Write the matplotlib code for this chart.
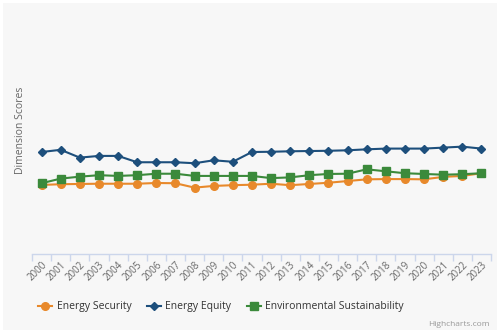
import matplotlib
matplotlib.use("Agg")
import matplotlib.pyplot as plt

years = [str(y) for y in range(2000, 2024)]
energy_security = [28.3, 28.6, 28.7, 28.8, 28.8, 28.8, 29.1, 29.0, 27.2, 27.9, 28.2, 28.4,
                   28.8, 28.2, 28.7, 29.2, 29.9, 30.6, 30.7, 30.7, 30.6, 31.6, 32.0, 33.1]
energy_equity = [41.8, 42.7, 39.5, 40.2, 40.2, 37.6, 37.6, 37.6, 37.2, 38.4, 37.8, 41.8,
                 41.9, 42.1, 42.2, 42.3, 42.5, 42.9, 43.2, 43.2, 43.2, 43.6, 44.0, 43.2]
env_sustain = [29.0, 30.9, 31.7, 32.3, 32.0, 32.3, 32.9, 32.9, 32.0, 32.0, 32.0, 32.0,
               31.1, 31.4, 32.3, 32.8, 32.9, 34.7, 33.9, 33.1, 32.8, 32.5, 32.7, 33.1]

plt.rcParams['font.family'] = ['Open Sans', 'DejaVu Sans']

W, H = 500, 333
fig = plt.figure(figsize=(W / 100, H / 100), dpi=100)
fig.patch.set_facecolor('#f7f7f7')
fig.patch.set_edgecolor('white')
fig.patch.set_linewidth(3)

ax = fig.add_axes([32 / W, (H - 254) / H, (491 - 32) / W, (254 - 10) / H])
ax.set_facecolor('#f7f7f7')
x = list(range(len(years)))

ax.plot(x, energy_security, color='#e8892b', lw=1.5, marker='o', ms=5.5, label='Energy Security')
ax.plot(x, energy_equity, color='#1d4f7c', lw=1.5, marker='D', ms=4, label='Energy Equity')
ax.plot(x, env_sustain, color='#3b8a3b', lw=1.5, marker='s', ms=5.5, label='Environmental Sustainability')

ax.set_xlim(-0.5, len(years) - 0.5)
ax.set_ylim(0, 100)
for s in ['top', 'right', 'left']:
    ax.spines[s].set_visible(False)
ax.spines['bottom'].set_color('#ccd6eb')
ax.spines['bottom'].set_linewidth(1)
ax.set_yticks([])
ax.set_xticks(x)
ax.set_xticklabels(years, rotation=45, ha='right', va='top', rotation_mode='anchor',
                   fontsize=7, color='#666666')
ax.tick_params(axis='x', which='major', length=0, pad=4)
ax.set_xticks([i - 0.5 for i in range(len(years) + 1)], minor=True)
ax.tick_params(axis='x', which='minor', length=5, color='#ccd6eb', width=1)

fig.text(21 / W, (H - 130) / H, 'Dimension Scores', rotation=90,
         ha='center', va='center', fontsize=7.5, color='#666666')

fig.legend(loc='center', bbox_to_anchor=(221 / W, (H - 307) / H), ncol=3, frameon=False,
           fontsize=7.5, handlelength=1.35, handletextpad=0.4, columnspacing=1.5,
           labelcolor='#333333', borderpad=0)

fig.text(490 / W, (H - 325) / H, 'Highcharts.com', ha='right', va='center',
         fontsize=6, color='#999999')

fig.savefig('out.png', dpi=100, facecolor=fig.get_facecolor(), edgecolor=fig.get_edgecolor())
